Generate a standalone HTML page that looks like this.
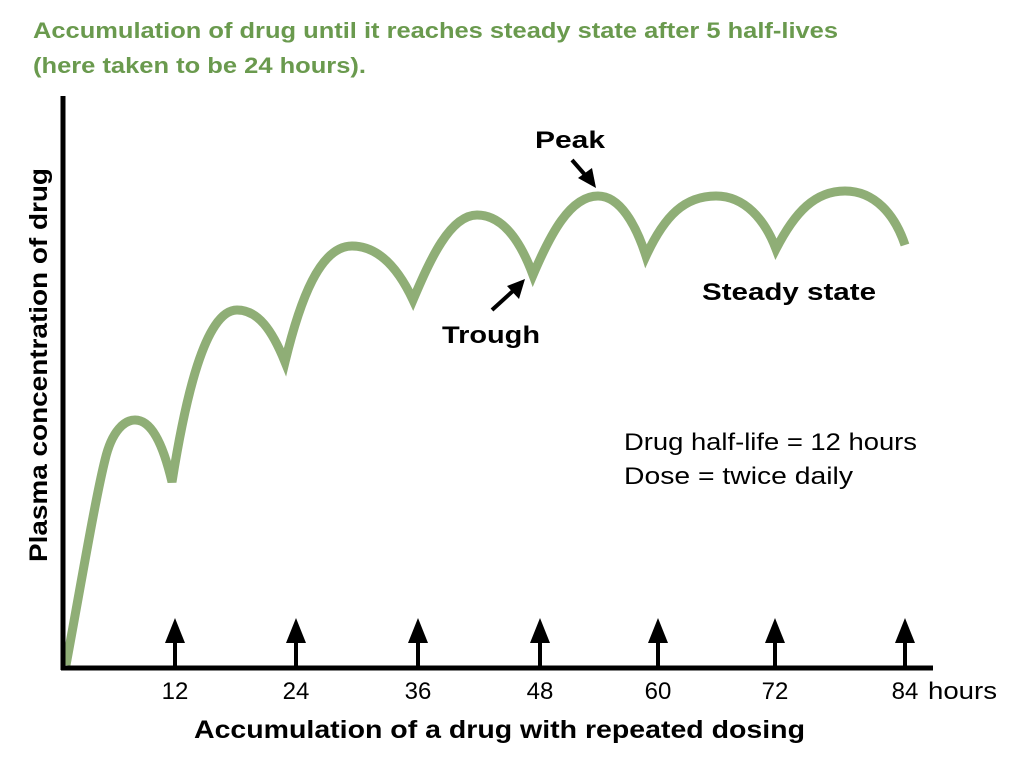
<!DOCTYPE html>
<html><head><style>
body{margin:0;background:#fff;}
svg text{font-family:"Liberation Sans",Arial,sans-serif;}
</style></head><body>
<svg width="1024" height="765" viewBox="0 0 1024 765" xmlns="http://www.w3.org/2000/svg">
<rect width="1024" height="765" fill="#fff"/>
<text x="33" y="38" font-size="22" font-weight="bold" fill="#6a9a4e" textLength="805" lengthAdjust="spacingAndGlyphs">Accumulation of drug until it reaches steady state after 5 half-lives</text>
<text x="33" y="73" font-size="22" font-weight="bold" fill="#6a9a4e" textLength="333" lengthAdjust="spacingAndGlyphs">(here taken to be 24 hours).</text>
<path d="M66,665 C80,590 95,500 105,460 C112,430 125,420 135,420 C150,420 162,440 172,482
C185,400 205,310 237,310 C258,310 272,330 285,362
C300,300 320,246 352,246 C378,246 398,268 413,300
C430,260 450,215 477,215 C502,215 520,240 533,275
C550,235 570,196 598,196 C620,196 636,225 646,256
C665,215 685,196 716,196 C745,196 765,220 776,249
C795,212 815,191 845,191 C875,191 895,215 905,245"
 fill="none" stroke="#8fae76" stroke-width="9" stroke-linejoin="miter"/>
<line x1="63" y1="96" x2="63" y2="670" stroke="#000" stroke-width="5"/>
<line x1="61" y1="668" x2="933" y2="668" stroke="#000" stroke-width="5"/>
<g stroke="#000" stroke-width="4">
<line x1="175" y1="640" x2="175" y2="668"/><line x1="296" y1="640" x2="296" y2="668"/>
<line x1="418" y1="640" x2="418" y2="668"/><line x1="540" y1="640" x2="540" y2="668"/>
<line x1="658" y1="640" x2="658" y2="668"/><line x1="775" y1="640" x2="775" y2="668"/>
<line x1="905" y1="640" x2="905" y2="668"/>
</g>
<g fill="#000">
<polygon points="175,618 165,643 185,643"/><polygon points="296,618 286,643 306,643"/>
<polygon points="418,618 408,643 428,643"/><polygon points="540,618 530,643 550,643"/>
<polygon points="658,618 648,643 668,643"/><polygon points="775,618 765,643 785,643"/>
<polygon points="905,618 895,643 915,643"/>
</g>
<g font-size="24" text-anchor="middle">
<text x="175" y="699">12</text><text x="296" y="699">24</text><text x="418" y="699">36</text>
<text x="540" y="699">48</text><text x="658" y="699">60</text><text x="775" y="699">72</text>
<text x="905" y="699">84</text>
</g>
<text x="928" y="699" font-size="24" textLength="69" lengthAdjust="spacingAndGlyphs">hours</text>
<text x="194" y="738" font-size="25" font-weight="bold" textLength="611" lengthAdjust="spacingAndGlyphs">Accumulation of a drug with repeated dosing</text>
<text transform="translate(47,562) rotate(-90)" font-size="25" font-weight="bold" textLength="394" lengthAdjust="spacingAndGlyphs">Plasma concentration of drug</text>
<text x="535" y="148" font-size="24" font-weight="bold" textLength="70" lengthAdjust="spacingAndGlyphs">Peak</text>
<line x1="572" y1="160" x2="586" y2="176" stroke="#000" stroke-width="4"/>
<polygon points="596,188 578,178 592,168" fill="#000"/>
<text x="442" y="343" font-size="24" font-weight="bold" textLength="98" lengthAdjust="spacingAndGlyphs">Trough</text>
<line x1="492" y1="310" x2="514" y2="290" stroke="#000" stroke-width="4"/>
<polygon points="525,279 519,299 507,286" fill="#000"/>
<text x="702" y="300" font-size="24" font-weight="bold" textLength="174" lengthAdjust="spacingAndGlyphs">Steady state</text>
<text x="624" y="450" font-size="24" textLength="293" lengthAdjust="spacingAndGlyphs">Drug half-life = 12 hours</text>
<text x="624" y="484" font-size="24" textLength="229" lengthAdjust="spacingAndGlyphs">Dose = twice daily</text>
</svg>
</body></html>
